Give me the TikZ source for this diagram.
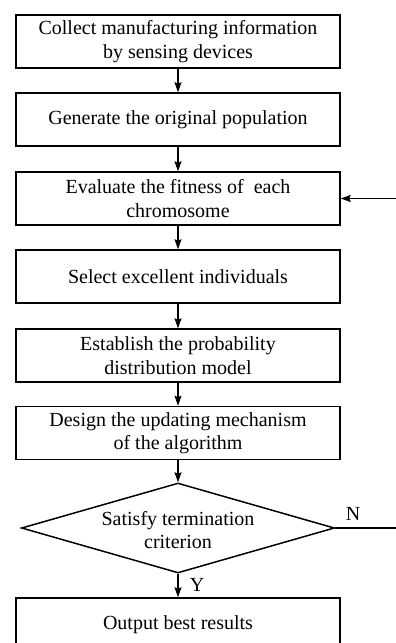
\documentclass[tikz,border=0pt]{standalone}
\usepackage{fontspec}
\setmainfont{Liberation Serif}
\usetikzlibrary{shapes.geometric,arrows.meta}
\tikzset{
    stepbox/.style={draw, line width=1.5pt, minimum width=324pt, minimum height=53pt,
        align=center, inner sep=0pt, font=\fontsize{20}{23.5}\selectfont},
    decision/.style={draw, diamond, line width=1.5pt, minimum width=313pt,
        minimum height=90pt, inner sep=0pt},
    flow/.style={line width=1.1pt, -{Stealth[length=10pt,width=7pt,inset=1.5pt]}},
    tag/.style={font=\fontsize{20}{23.5}\selectfont, inner sep=0pt}
}
\begin{document}
\begin{tikzpicture}[x=1pt,y=-1pt]
    \useasboundingbox (0,0) rectangle (396,643);
    % Process steps
    \node[stepbox] (collect) at (178,41.5) {Collect manufacturing information\\by sensing devices};
    \node[stepbox] (generate) at (178,119.5) {Generate the original population};
    \node[stepbox] (evaluate) at (178,198.5) {Evaluate the fitness of\ \ each\\chromosome};
    \node[stepbox] (select) at (178,276.5) {Select excellent individuals};
    \node[stepbox] (model) at (178,355.5) {Establish the probability\\distribution model};
    \node[stepbox] (update) at (178,433) {Design the updating mechanism\\of the algorithm};
    \node[decision] (check) at (178,528) {};
    \node[tag, align=center] (checktext) at (178,530) {Satisfy termination\\criterion};
    \node[stepbox] (output) at (178,624.5) {Output best results};

    % Arrows
    \foreach \a/\b in {collect/generate, generate/evaluate, evaluate/select,
                       select/model, model/update} {
        \draw[flow] (\a.south) -- (\b.north);
    }
    \draw[flow] (update.south) -- (check.north);
    \draw[flow] (check.south) -- (output.north);

    % Loop back (turns outside the visible area)
    \coordinate (loop) at (399,528);
    \draw[line width=1.1pt] (check.east) -- (loop);
    \draw[flow] (loop |- evaluate.east) -- (evaluate.east);
    \node[tag] (no) at (353,514) {N};
    \node[tag] (yes) at (197,585) {Y};
\end{tikzpicture}
\end{document}
